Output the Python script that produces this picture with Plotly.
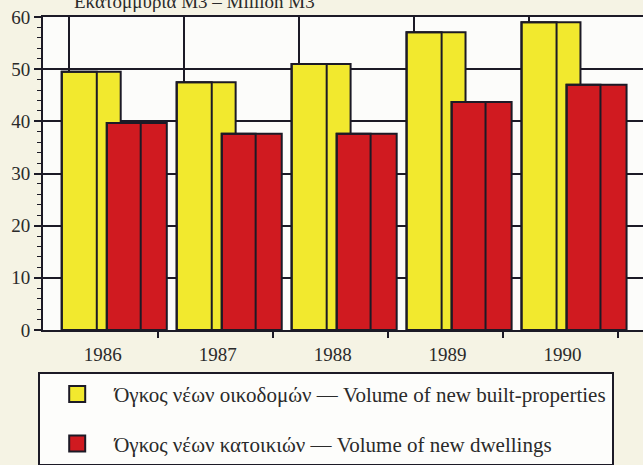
import plotly.graph_objects as go

# ---- data ----
years = ["1986", "1987", "1988", "1989", "1990"]
built_properties = [49.5, 47.5, 51.0, 57.1, 59.0]   # Volume of new built-properties (million m3)
dwellings = [39.7, 37.6, 37.6, 43.7, 47.0]           # Volume of new dwellings (million m3)
y_ticks = [0, 10, 20, 30, 40, 50, 60]

name_built = "Όγκος νέων οικοδομών — Volume of new built-properties"
name_dwell = "Όγκος νέων κατοικιών — Volume of new dwellings"
title_text = "Εκατομμύρια Μ3 – Million M3"

# ---- styles ----
YELLOW = "#f2e92e"
RED = "#d01a20"
INK = "#1c1a26"
PAPER = "#f5f3e4"
PLOTBG = "#fcfcfa"
FONT = "Liberation Serif"

xpos = list(range(len(years)))
X_RANGE = [-0.52, 4.70]

fig = go.Figure()

# yellow bars (behind)
fig.add_trace(go.Bar(x=xpos, y=built_properties, width=0.513, offset=-0.357,
                     marker=dict(color=YELLOW, line=dict(color=INK, width=2)),
                     showlegend=False, hoverinfo="skip"))
fig.add_trace(go.Bar(x=xpos, y=built_properties, width=0.305, offset=-0.357,
                     marker=dict(color="rgba(0,0,0,0)", line=dict(color=INK, width=2)),
                     showlegend=False, hoverinfo="skip"))
# red bars (front)
fig.add_trace(go.Bar(x=xpos, y=dwellings, width=0.522, offset=0.035,
                     marker=dict(color=RED, line=dict(color=INK, width=2)),
                     showlegend=False, hoverinfo="skip"))
fig.add_trace(go.Bar(x=xpos, y=dwellings, width=0.295, offset=0.035,
                     marker=dict(color="rgba(0,0,0,0)", line=dict(color=INK, width=2)),
                     showlegend=False, hoverinfo="skip"))

# legend entries
fig.add_trace(go.Scatter(x=[None], y=[None], mode="markers", name=name_built,
                         legendgroup="a",
                         marker=dict(symbol="square", size=16, color=YELLOW,
                                     line=dict(color=INK, width=2))))
fig.add_trace(go.Scatter(x=[None], y=[None], mode="markers", name=name_dwell,
                         legendgroup="b",
                         marker=dict(symbol="square", size=16, color=RED,
                                     line=dict(color=INK, width=2))))

# helper trace for the boundary tick axis
fig.add_trace(go.Scatter(x=[0], y=[0], xaxis="x2", mode="markers",
                         marker=dict(opacity=0), showlegend=False, hoverinfo="skip"))

fig.update_layout(
    width=643, height=465,
    margin=dict(l=43, r=0, t=17, b=135, autoexpand=False),
    paper_bgcolor=PAPER, plot_bgcolor=PLOTBG,
    barmode="overlay",
    font=dict(family=FONT, color="#2a2a2a", size=17),
    xaxis=dict(range=X_RANGE, tickmode="array", tickvals=xpos, ticktext=years,
               ticks="", showgrid=False, zeroline=False, ticklabelstandoff=6,
               showline=True, linecolor=INK, linewidth=2, mirror=True,
               tickfont=dict(size=19, family=FONT),
               minor=dict(tickmode="array", tickvals=[x - 0.296 for x in xpos],
                          showgrid=True, gridcolor=INK, gridwidth=1.5, ticks="")),
    xaxis2=dict(range=X_RANGE, overlaying="x", anchor="y", side="bottom",
                tickmode="array", tickvals=[x + 0.48 for x in xpos],
                ticks="outside", ticklen=7, tickwidth=1.5, tickcolor=INK,
                showticklabels=False, showgrid=False, showline=False, zeroline=False),
    yaxis=dict(range=[0, 60], tickmode="array", tickvals=y_ticks,
               ticks="outside", ticklen=7, tickwidth=1.5, tickcolor=INK,
               showgrid=True, gridcolor=INK, gridwidth=1.5, zeroline=False,
               showline=True, linecolor=INK, linewidth=2,
               tickfont=dict(size=19, family=FONT),
               minor=dict(dtick=2, ticks="outside", ticklen=4, tickwidth=1,
                          tickcolor=INK, showgrid=False)),
    legend=dict(x=-0.008, y=-0.134, xanchor="left", yanchor="top",
                bgcolor="#fdfdfb", bordercolor=INK, borderwidth=2,
                font=dict(family=FONT, size=21, color="#2a2a2a"),
                tracegroupgap=19, itemwidth=64),
    annotations=[dict(text=title_text, xref="paper", yref="paper",
                      x=0.252, y=1.009, xanchor="center", yanchor="bottom",
                      showarrow=False, font=dict(family=FONT, size=19, color="#2a2a2a"))],
)

fig.write_html("out.html", config={"displayModeBar": False},
               post_script="document.body.style.margin='0';document.body.style.background='#f5f3e4';")
